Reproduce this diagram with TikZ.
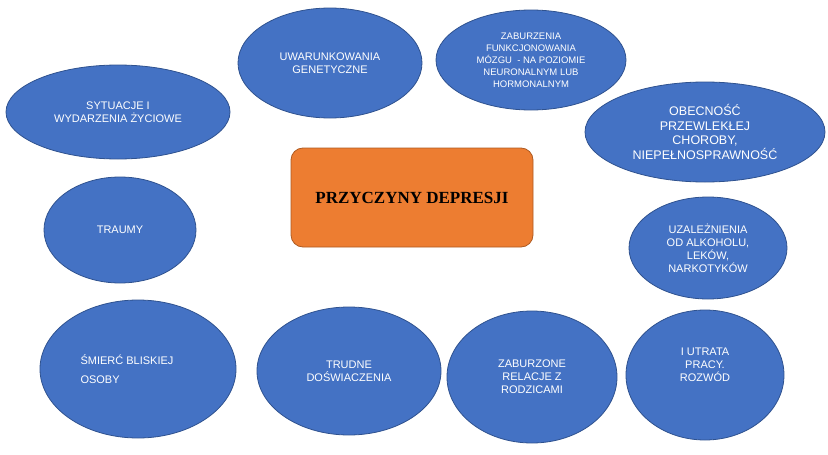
\documentclass[tikz,border=0pt]{standalone}
\usepackage{fontspec}
\setmainfont{Liberation Sans}
\newfontfamily\titlefont{Liberation Serif}
\usetikzlibrary{shapes.geometric}
\definecolor{causefill}{HTML}{4472C4}
\definecolor{causeline}{HTML}{2F528F}
\definecolor{mainfill}{HTML}{ED7D31}
\definecolor{mainline}{HTML}{AE5A21}
\begin{document}
\begin{tikzpicture}[x=1pt,y=-1pt,
    cause/.style={ellipse,draw=causeline,fill=causefill,line width=0.8pt,
      text=white,align=center,inner sep=0pt,font=\fontsize{11}{13}\selectfont},
    oval/.style 2 args={minimum width=#1,minimum height=#2},
    main/.style={rectangle,rounded corners=12pt,draw=mainline,fill=mainfill,
      line width=0.8pt,minimum width=242pt,minimum height=99pt,
      font=\titlefont\bfseries\fontsize{17}{20}\selectfont}]
  \useasboundingbox (0,0) rectangle (828,455);
  \node[main] (main) at (412,197.5) {PRZYCZYNY DEPRESJI};
  \draw
    (330,63) node[cause,oval={184pt}{110pt}] (gen) {UWARUNKOWANIA\\GENETYCZNE}
    (531,60) node[cause,oval={190pt}{100pt},font=\fontsize{9.5}{12}\selectfont] (mozg)
      {ZABURZENIA\\FUNKCJONOWANIA\\MÓZGU\ \ - NA POZIOMIE\\NEURONALNYM LUB\\HORMONALNYM}
    (118,112) node[cause,oval={224pt}{94pt}] (sytu) {SYTUACJE I\\WYDARZENIA ŻYCIOWE}
    (705,132) node[cause,oval={240pt}{100pt},font=\fontsize{12.5}{14.5}\selectfont] (obec)
      {OBECNOŚĆ\\PRZEWLEKŁEJ\\CHOROBY,\\NIEPEŁNOSPRAWNOŚĆ}
    (120,230) node[cause,oval={152pt}{106pt}] (trau) {TRAUMY}
    (708,248) node[cause,oval={158pt}{102pt}] (uzal)
      {UZALEŻNIENIA\\OD ALKOHOLU,\\LEKÓW,\\NARKOTYKÓW}
    (138,369) node[cause,oval={196pt}{138pt},align=left,font=\fontsize{11}{19}\selectfont] (smie)
      {ŚMIERĆ BLISKIEJ\hspace*{22pt}\\OSOBY}
    (349,371) node[cause,oval={184pt}{128pt}] (trud) {TRUDNE\\DOŚWIACZENIA}
    (532,377) node[cause,oval={170pt}{132pt}] (rodz) {ZABURZONE\\RELACJE Z\\RODZICAMI}
    (705,375) node[cause,oval={158pt}{130pt}] (prac) {I UTRATA\\PRACY.\\ROZWÓD\\[4pt]\strut};
\end{tikzpicture}
\end{document}
